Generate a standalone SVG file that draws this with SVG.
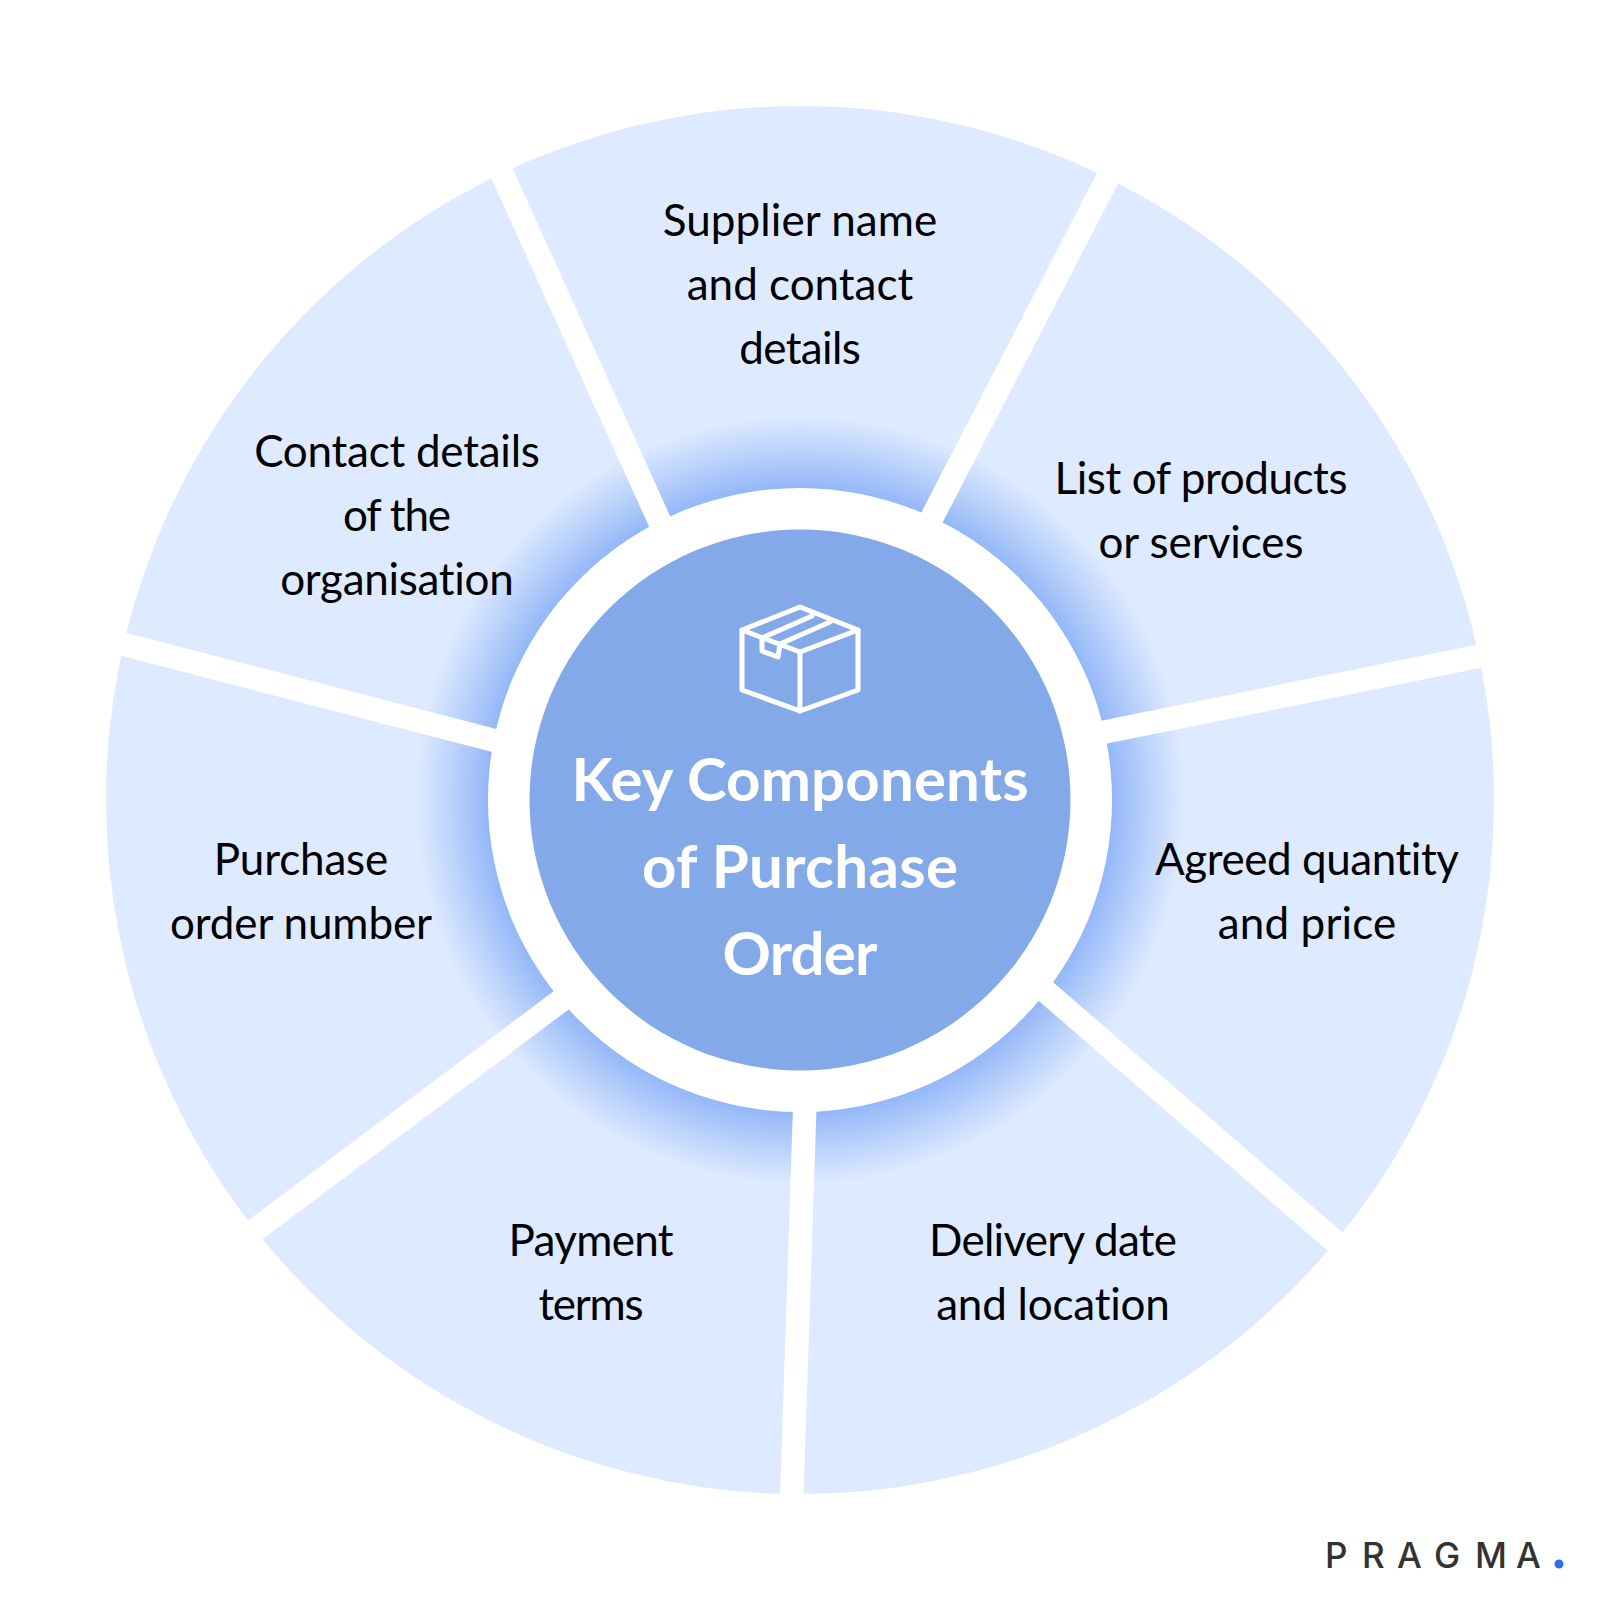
<svg xmlns="http://www.w3.org/2000/svg" width="1600" height="1600" viewBox="0 0 1600 1600">
<style>
text{font-variant-ligatures:none}
.seg{font-family:"Lato","Noto Sans",sans-serif;font-size:44px;fill:#000;text-anchor:middle}
.title{font-family:"Lato","Noto Sans",sans-serif;font-size:60px;font-weight:700;fill:#fff;text-anchor:middle}
.gap{stroke:#fff;stroke-width:23.5;fill:none}
.icon{stroke:#fff;stroke-width:5;fill:none;stroke-linejoin:round;stroke-linecap:round}
.logo{font-family:"Inter","Noto Sans",sans-serif;font-size:35px;font-weight:500;fill:#333}
</style>
<defs>
<radialGradient id="glow" gradientUnits="userSpaceOnUse" cx="800" cy="800" r="385">
<stop offset="0.8" stop-color="#8fb4f7"/>
<stop offset="0.88" stop-color="#b0cbfa"/>
<stop offset="1" stop-color="#deeaff"/>
</radialGradient>
</defs>
<rect width="1600" height="1600" fill="#fff"/>
<circle id="ring" cx="800" cy="800" r="694" fill="#deeaff"/>
<circle id="glow-ring" cx="800" cy="800" r="385" fill="url(#glow)"/>
<g id="connectors" class="gap">
<line x1="480" y1="125" x2="668" y2="540"/>
<line x1="1131.5" y1="132" x2="926.5" y2="528"/>
<line x1="1510" y1="650" x2="1090" y2="735"/>
<line x1="1368" y1="1270" x2="1036" y2="983"/>
<line x1="791" y1="1520" x2="805" y2="1100"/>
<line x1="203" y1="1269" x2="571" y2="993"/>
<line x1="80" y1="633" x2="500" y2="742"/>
</g>
<circle id="white-ring" cx="800" cy="800" r="312" fill="#fff"/>
<g id="center">
<circle cx="800" cy="800" r="270.5" fill="#84a9e9"/>
<g id="box" class="icon">
<path d="M800 607L858 630V690L800 711L742 690V630Z"/>
<path d="M742 630L800 652L858 630M800 652V711"/>
<path d="M762 638V651L778 657L780 644"/>
<path d="M762 638L812 616M780 644L830 622"/>
</g>
<text class="title" x="800" y="801" textLength="457">Key Components</text>
<text class="title" x="800" y="888" textLength="316">of Purchase</text>
<text class="title" x="800" y="975" textLength="155">Order</text>
</g>
<g id="n-supplier"><text class="seg" x="800" y="236" textLength="274.5">Supplier name</text><text class="seg" x="800" y="300" textLength="226.5">and contact</text><text class="seg" x="800" y="364" textLength="121.5">details</text></g>
<g id="n-products"><text class="seg" x="1201" y="494" textLength="293">List of products</text><text class="seg" x="1201" y="558" textLength="205">or services</text></g>
<g id="n-quantity"><text class="seg" x="1307" y="875" textLength="304">Agreed quantity</text><text class="seg" x="1307" y="939" textLength="178.5">and price</text></g>
<g id="n-delivery"><text class="seg" x="1053" y="1256" textLength="248">Delivery date</text><text class="seg" x="1053" y="1320" textLength="233.7">and location</text></g>
<g id="n-payment"><text class="seg" x="591" y="1256" textLength="165">Payment</text><text class="seg" x="591" y="1320" textLength="105">terms</text></g>
<g id="n-po"><text class="seg" x="301" y="875" textLength="174.5">Purchase</text><text class="seg" x="301" y="939" textLength="262">order number</text></g>
<g id="n-contact"><text class="seg" x="397" y="467" textLength="285.7">Contact details</text><text class="seg" x="397" y="531" textLength="108">of the</text><text class="seg" x="397" y="595" textLength="233.7">organisation</text></g>
<g id="logo">
<text class="logo" x="1325" y="1568">P</text><text class="logo" x="1362" y="1568">R</text><text class="logo" x="1397" y="1568">A</text><text class="logo" x="1434" y="1568">G</text><text class="logo" x="1475" y="1568">M</text><text class="logo" x="1516" y="1568">A</text>
<circle cx="1559" cy="1564" r="4.5" fill="#2e6ff2"/>
</g>
</svg>
